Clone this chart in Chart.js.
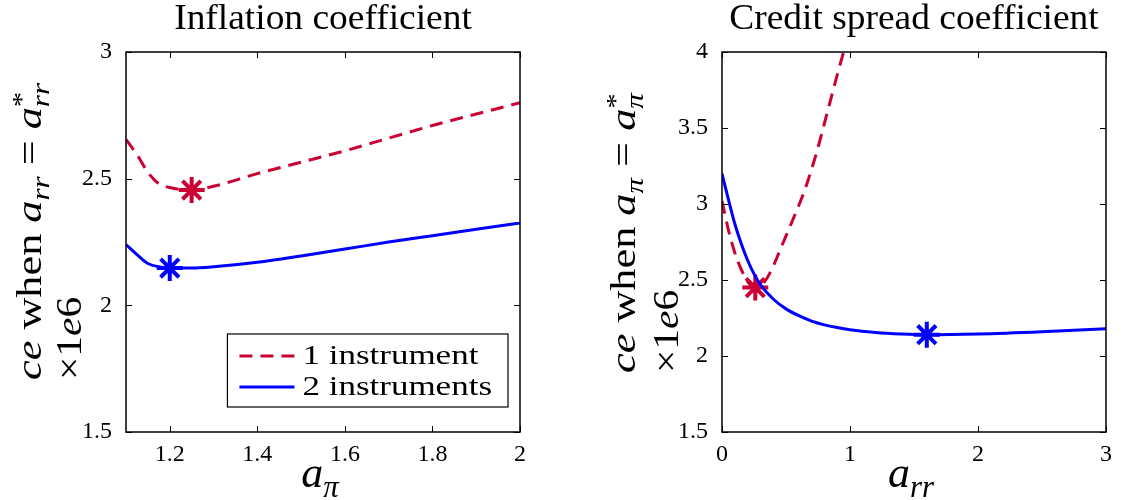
<!DOCTYPE html>
<html>
<head>
<meta charset="utf-8">
<script src="https://cdn.jsdelivr.net/npm/chart.js@4.4.1/dist/chart.umd.min.js"></script>
<style>
    html, body { margin: 0; padding: 0; background: #fff; }
    #wrap { display: flex; width: 1123px; height: 500px; }
    .panel { position: relative; height: 500px; }
</style>
</head>
<body>
<div id="wrap">
    <div class="panel" style="width:561px"><canvas id="chartInflacion"></canvas></div>
    <div class="panel" style="width:562px"><canvas id="chartSpread"></canvas></div>
</div>
<script>
// ====================== DATOS ======================
// Panel izquierdo: coeficiente de inflacion (a_pi)
const infUnoX  = [1.10, 1.125, 1.15, 1.175, 1.20, 1.25, 1.30, 1.40, 1.50, 1.60, 1.70, 1.80, 1.90, 2.00];
const infUnoY  = [2.655, 2.595, 2.525, 2.48, 2.465, 2.455, 2.47, 2.52, 2.565, 2.61, 2.66, 2.71, 2.755, 2.80];
const infDosX  = [1.10, 1.125, 1.15, 1.20, 1.25, 1.30, 1.40, 1.50, 1.60, 1.70, 1.80, 1.90, 2.00];
const infDosY  = [2.24, 2.20, 2.165, 2.148, 2.147, 2.152, 2.17, 2.195, 2.222, 2.25, 2.275, 2.30, 2.325];
const infOptimoUno = [1.25, 2.455];
const infOptimoDos = [1.20, 2.147];
const infTicksX = [1.2, 1.4, 1.6, 1.8, 2];
const infTicksY = [1.5, 2, 2.5, 3];

// Panel derecho: coeficiente del credit spread (a_rr)
const spUnoX = [0, 0.05, 0.10, 0.15, 0.20, 0.26, 0.30, 0.35, 0.40, 0.45, 0.50, 0.55, 0.60, 0.65, 0.70, 0.75, 0.80, 0.85, 0.90, 0.95];
const spUnoY = [3.02, 2.83, 2.68, 2.57, 2.49, 2.45, 2.46, 2.51, 2.59, 2.69, 2.79, 2.89, 2.99, 3.10, 3.23, 3.37, 3.53, 3.69, 3.85, 4.00];
const spDosX = [0, 0.05, 0.10, 0.15, 0.20, 0.25, 0.30, 0.40, 0.50, 0.60, 0.70, 0.80, 0.90, 1.00, 1.20, 1.40, 1.60, 2.00, 2.50, 3.00];
const spDosY = [3.20, 3.03, 2.87, 2.74, 2.63, 2.54, 2.47, 2.375, 2.31, 2.265, 2.23, 2.205, 2.187, 2.173, 2.155, 2.145, 2.14, 2.145, 2.16, 2.18];
const spOptimoUno = [0.26, 2.45];
const spOptimoDos = [1.60, 2.14];
const spTicksX = [0, 1, 2, 3];
const spTicksY = [1.5, 2, 2.5, 3, 3.5, 4];

const etiquetas = ["1 instrument", "2 instruments"];

const ROJO  = "#cc0033";
const AZUL  = "#0000ff";
const SERIF = "'Liberation Serif', 'DejaVu Serif', serif";

// ====================== TEXTO CON SUB/SUPERINDICES ======================
function fuente(size, italic) {
    return (italic ? "italic " : "") + size + "px " + SERIF;
}

function textoRico(ctx, partes, size, dibujar) {
    let x = 0;
    partes.forEach(p => {
        if (p.sup !== undefined || p.sub !== undefined) {
            const s = size * 0.7;
            let w = 0;
            if (p.sup) {
                ctx.font = fuente(s, false);
                if (dibujar) ctx.fillText(p.sup, x, -size * 0.30);
                w = Math.max(w, ctx.measureText(p.sup).width);
            }
            if (p.sub) {
                ctx.font = fuente(s, true);
                if (dibujar) ctx.fillText(p.sub, x, size * 0.22);
                w = Math.max(w, ctx.measureText(p.sub).width);
            }
            x += w;
        } else {
            ctx.font = fuente(size, p.it);
            if (dibujar) ctx.fillText(p.t, x, 0);
            x += ctx.measureText(p.t).width;
        }
    });
    return x;
}

// ====================== PLUGIN: MARCO, TITULOS Y LEYENDA ======================
const pluginRotulos = {
    id: "rotulos",
    afterDraw(chart, args, opts) {
        const ctx  = chart.ctx;
        const area = chart.chartArea;
        const sx = chart.scales.x, sy = chart.scales.y;

        ctx.save();
        ctx.fillStyle = "#000";
        ctx.strokeStyle = "#000";

        // Marco y ticks hacia adentro
        ctx.lineWidth = 1.5;
        ctx.strokeRect(area.left, area.top, area.right - area.left, area.bottom - area.top);
        ctx.lineWidth = 1;
        const L = 6;
        ctx.beginPath();
        sx.ticks.forEach(t => {
            const px = Math.round(sx.getPixelForValue(t.value)) + 0.5;
            ctx.moveTo(px, area.bottom); ctx.lineTo(px, area.bottom - L);
            ctx.moveTo(px, area.top);    ctx.lineTo(px, area.top + L);
        });
        sy.ticks.forEach(t => {
            const py = Math.round(sy.getPixelForValue(t.value)) + 0.5;
            ctx.moveTo(area.left, py);  ctx.lineTo(area.left + L, py);
            ctx.moveTo(area.right, py); ctx.lineTo(area.right - L, py);
        });
        ctx.stroke();

        // Titulo
        const cx = (area.left + area.right) / 2;
        ctx.textAlign = "left";
        ctx.textBaseline = "alphabetic";
        ctx.font = fuente(36, false);
        const wt = ctx.measureText(opts.titulo).width * 1.04;
        ctx.save();
        ctx.translate(cx - wt / 2, 29);
        ctx.scale(1.04, 1);
        ctx.fillText(opts.titulo, 0, 0);
        ctx.restore();

        // Titulo eje X
        const wx = textoRico(ctx, opts.ejeX, 44, false);
        ctx.save();
        ctx.translate(cx - 3 - wx / 2, 487);
        textoRico(ctx, opts.ejeX, 44, true);
        ctx.restore();

        // Titulo eje Y (dos lineas, rotado)
        opts.ejeY.forEach((linea, i) => {
            ctx.save();
            ctx.translate(opts.ejeYBase[i], opts.ejeYInicio);
            ctx.rotate(-Math.PI / 2);
            ctx.scale(opts.ejeYEstirar[i], 1);
            textoRico(ctx, linea, 36, true);
            ctx.restore();
        });

        // Leyenda
        if (opts.leyenda) {
            const k = 1.25;
            const series = chart.data.datasets.filter(d => d.enLeyenda);
            ctx.font = fuente(28, false);
            const tw = Math.max(...series.map(d => ctx.measureText(d.label).width)) * k;
            const bw = 12 + 55 + 8 + tw + 16;
            const bh = 73;
            const x1 = area.right - 12 - bw;
            const y1 = area.bottom - 25 - bh;
            ctx.fillStyle = "#fff";
            ctx.fillRect(x1, y1, bw, bh);
            ctx.strokeStyle = "#000";
            ctx.lineWidth = 1.2;
            ctx.strokeRect(x1, y1, bw, bh);
            series.forEach((d, i) => {
                const yy = y1 + 22 + i * 31;
                ctx.save();
                ctx.strokeStyle = d.borderColor;
                ctx.lineWidth = d.borderWidth;
                ctx.setLineDash(d.borderDash || []);
                ctx.beginPath();
                ctx.moveTo(x1 + 12, yy);
                ctx.lineTo(x1 + 67, yy);
                ctx.stroke();
                ctx.restore();
                ctx.save();
                ctx.fillStyle = "#000";
                ctx.textBaseline = "middle";
                ctx.translate(x1 + 75, yy + 1);
                ctx.scale(k, 1);
                ctx.fillText(d.label, 0, 0);
                ctx.restore();
            });
        }
        ctx.restore();
    }
};

// ====================== CONFIGURACION ======================
function puntos(xs, ys) {
    return xs.map((x, i) => ({ x: x, y: ys[i] }));
}

function serieLinea(label, xs, ys, color, dash) {
    return {
        label: label,
        enLeyenda: true,
        data: puntos(xs, ys),
        borderColor: color,
        borderWidth: 3,
        borderDash: dash,
        pointRadius: 0,
        cubicInterpolationMode: "monotone",
        fill: false
    };
}

function serieOptimo(p, color) {
    return {
        label: "",
        enLeyenda: false,
        data: [{ x: p[0], y: p[1] }],
        showLine: false,
        pointStyle: "star",
        pointRadius: 13,
        pointBorderWidth: 4,
        pointBorderColor: color,
        pointBackgroundColor: color,
        borderColor: color
    };
}

function formatoTick(v) {
    return String(+Number(v).toFixed(2));
}

function crearGrafico(idCanvas, cfg) {
    const ctx = document.getElementById(idCanvas).getContext("2d");
    return new Chart(ctx, {
        type: "line",
        data: { datasets: cfg.datasets },
        plugins: [pluginRotulos],
        options: {
            responsive: true,
            maintainAspectRatio: false,
            animation: false,
            layout: { padding: { left: 0, right: cfg.derecha, top: 52, bottom: 0 } },
            plugins: {
                legend: { display: false },
                tooltip: { enabled: false },
                title: { display: false },
                rotulos: cfg.rotulos
            },
            scales: {
                x: {
                    type: "linear",
                    min: cfg.xMin, max: cfg.xMax,
                    grid: { display: false },
                    border: { display: false },
                    afterBuildTicks: s => { s.ticks = cfg.ticksX.map(v => ({ value: v })); },
                    afterFit: s => { s.height = 68; },
                    ticks: {
                        autoSkip: false, maxRotation: 0, padding: 0, color: "#000",
                        font: { family: SERIF, size: 24 },
                        callback: formatoTick
                    }
                },
                y: {
                    type: "linear",
                    min: cfg.yMin, max: cfg.yMax,
                    grid: { display: false },
                    border: { display: false },
                    afterBuildTicks: s => { s.ticks = cfg.ticksY.map(v => ({ value: v })); },
                    afterFit: s => { s.width = cfg.anchoY; },
                    ticks: {
                        autoSkip: false, padding: 6, color: "#000",
                        font: { family: SERIF, size: 24 },
                        callback: formatoTick
                    }
                }
            }
        }
    });
}

// ====================== GRAFICOS ======================
crearGrafico("chartInflacion", {
    datasets: [
        serieLinea(etiquetas[0], infUnoX, infUnoY, ROJO, [13, 8]),
        serieLinea(etiquetas[1], infDosX, infDosY, AZUL, []),
        serieOptimo(infOptimoUno, ROJO),
        serieOptimo(infOptimoDos, AZUL)
    ],
    xMin: 1.1, xMax: 2, yMin: 1.5, yMax: 3,
    ticksX: infTicksX, ticksY: infTicksY,
    anchoY: 126, derecha: 41,
    rotulos: {
        titulo: "Inflation coefficient",
        ejeX: [{ t: "a", it: true }, { sub: "\u03c0" }],
        ejeY: [
            [{ t: "ce", it: true }, { t: " when ", it: false }, { t: "a", it: true }, { sub: "rr" },
             { t: " = ", it: false }, { t: "a", it: true }, { sup: "*", sub: "rr" }],
            [{ t: "\u00d71", it: false }, { t: "e", it: true }, { t: "6", it: false }]
        ],
        ejeYBase: [41, 81],
        ejeYEstirar: [1.23, 1.15],
        ejeYInicio: 380,
        leyenda: true
    }
});

crearGrafico("chartSpread", {
    datasets: [
        serieLinea(etiquetas[0], spUnoX, spUnoY, ROJO, [13, 8]),
        serieLinea(etiquetas[1], spDosX, spDosY, AZUL, []),
        serieOptimo(spOptimoUno, ROJO),
        serieOptimo(spOptimoDos, AZUL)
    ],
    xMin: 0, xMax: 3, yMin: 1.5, yMax: 4,
    ticksX: spTicksX, ticksY: spTicksY,
    anchoY: 161, derecha: 8,
    rotulos: {
        titulo: "Credit spread coefficient",
        ejeX: [{ t: "a", it: true }, { sub: "rr" }],
        ejeY: [
            [{ t: "ce", it: true }, { t: " when ", it: false }, { t: "a", it: true }, { sub: "\u03c0" },
             { t: " = ", it: false }, { t: "a", it: true }, { sup: "*", sub: "\u03c0" }],
            [{ t: "\u00d71", it: false }, { t: "e", it: true }, { t: "6", it: false }]
        ],
        ejeYBase: [74, 117],
        ejeYEstirar: [1.23, 1.15],
        ejeYInicio: 373,
        leyenda: false
    }
});
</script>
</body>
</html>
